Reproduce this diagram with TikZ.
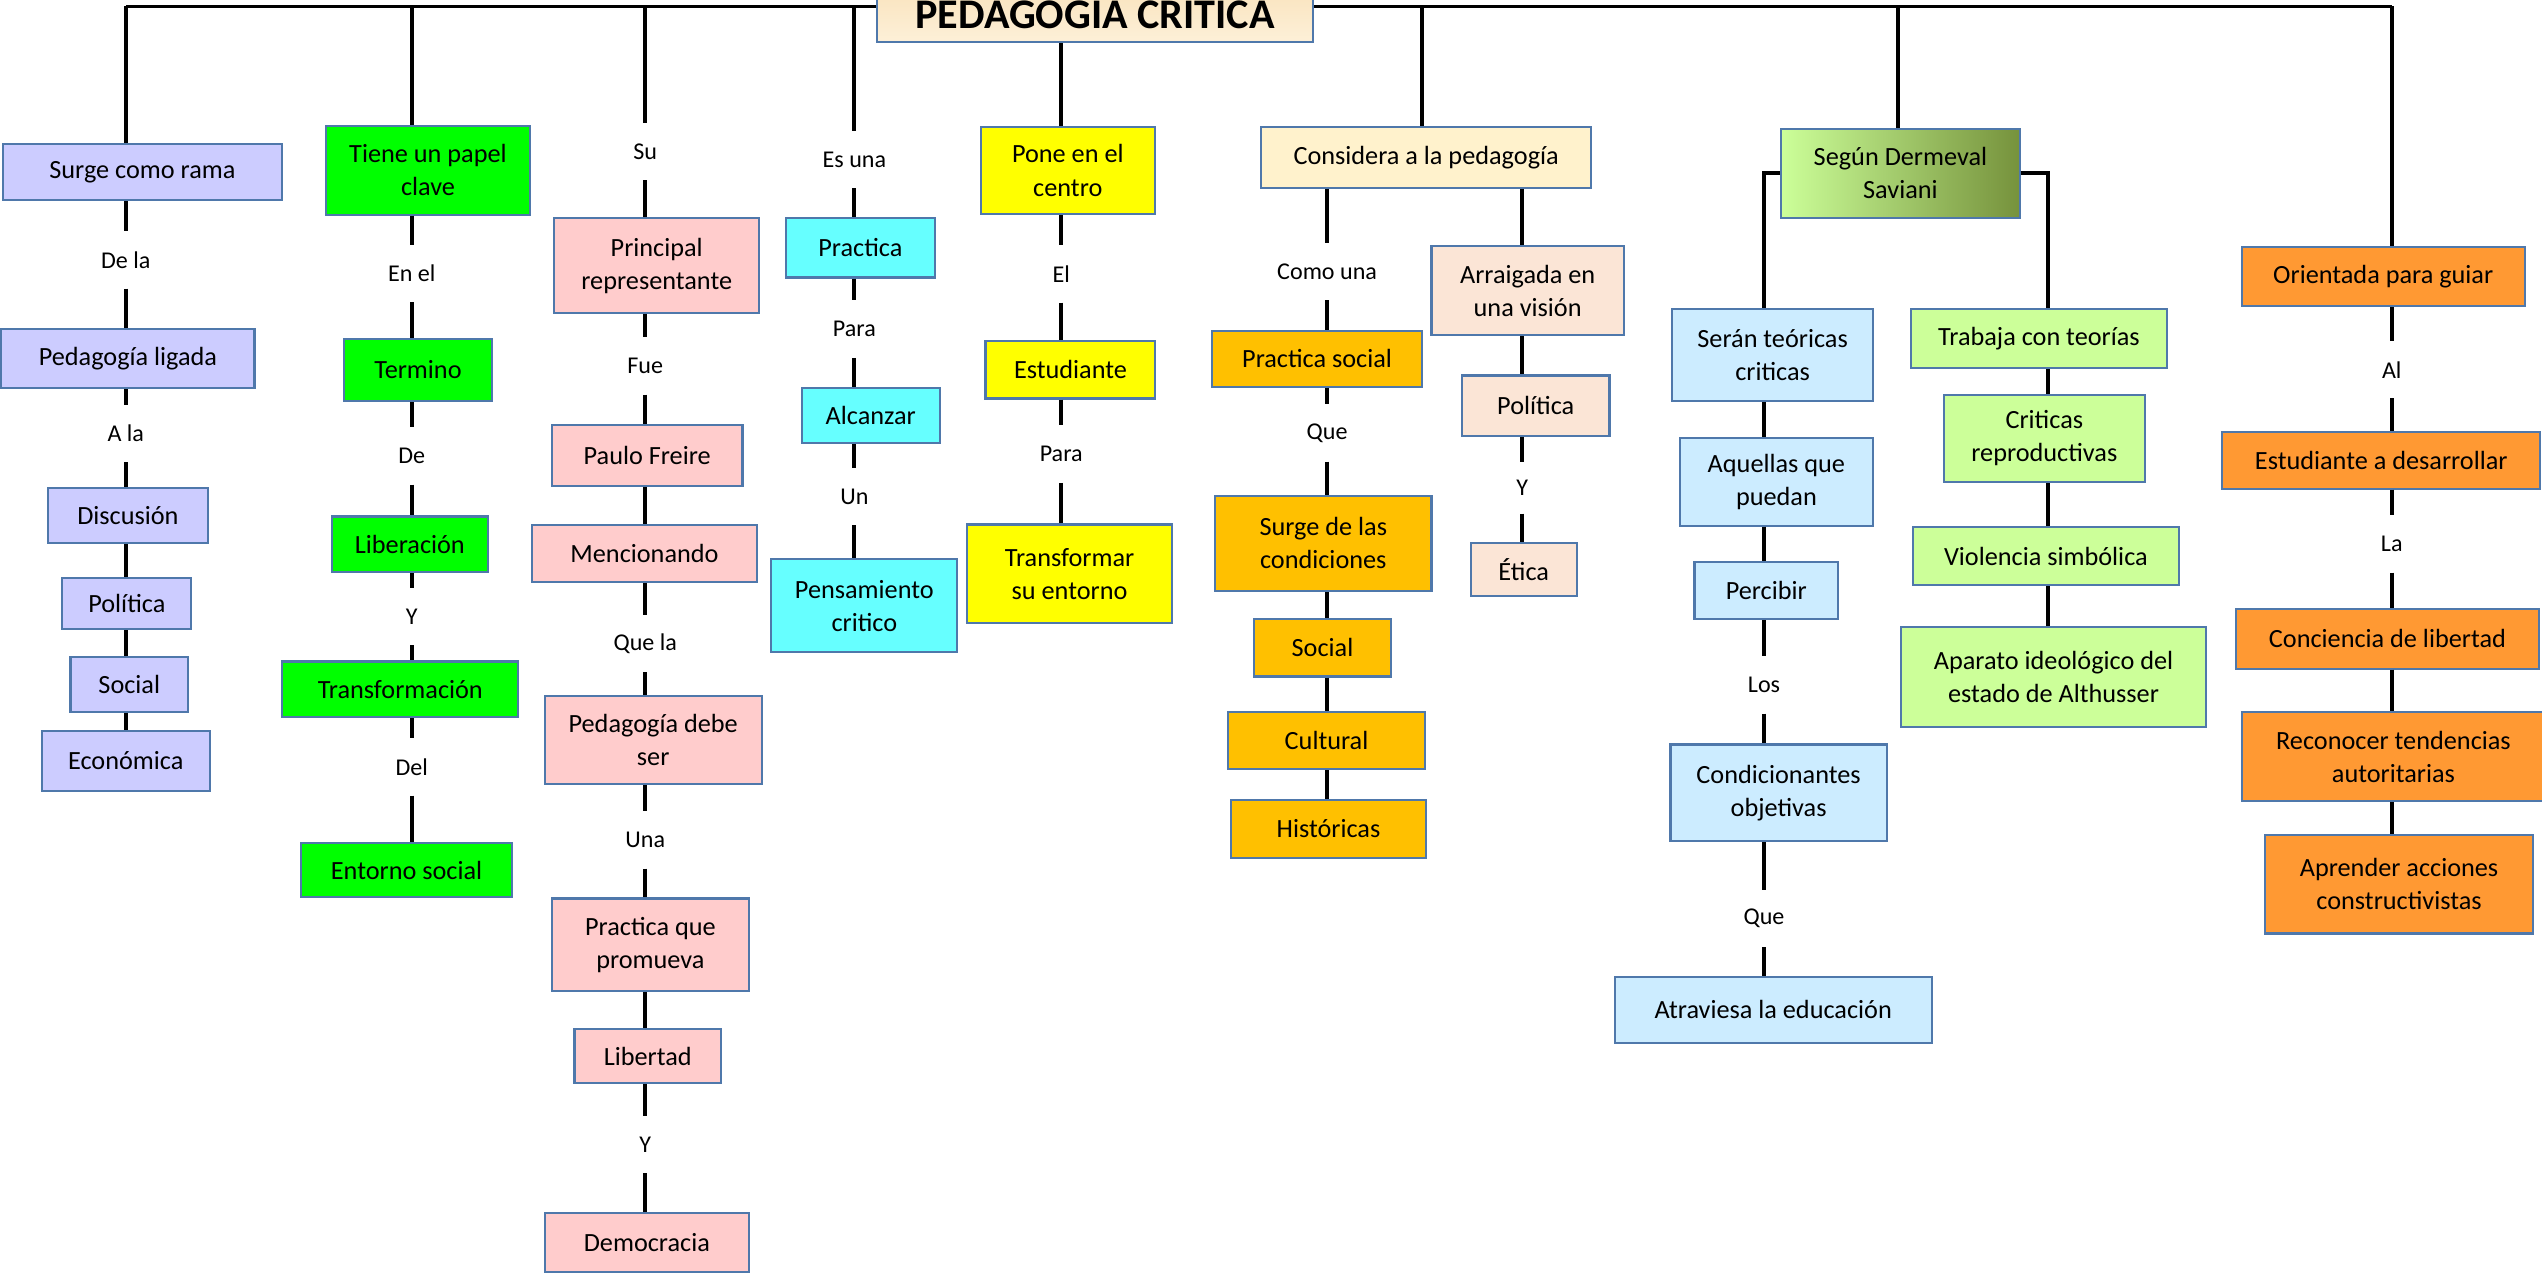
\documentclass[tikz,border=0pt]{standalone}
\usepackage{fontspec}
\setmainfont{Carlito}
\usetikzlibrary{calc}
\definecolor{bord}{HTML}{4F78AB}
\definecolor{cLav}{HTML}{CCCCFF}
\definecolor{cGreen}{HTML}{00FF00}
\definecolor{cPink}{HTML}{FFCCCC}
\definecolor{cCyan}{HTML}{66FFFF}
\definecolor{cYellow}{HTML}{FFFF00}
\definecolor{cGold}{HTML}{FFC000}
\definecolor{cPeach}{HTML}{FBE5D6}
\definecolor{cBlue}{HTML}{CCECFF}
\definecolor{cLime}{HTML}{CCFF99}
\definecolor{cOrange}{HTML}{FF9933}
\definecolor{gLight}{HTML}{FFF2CC}
\definecolor{gMid}{HTML}{FFCF40}
\definecolor{sLight}{HTML}{CCFF99}
\definecolor{sMid}{HTML}{AEDC78}
\definecolor{sDark}{HTML}{76923C}
\definecolor{tTop}{HTML}{F9E3BD}
\definecolor{tBot}{HTML}{FDF0D8}
\tikzset{
  box/.style={draw=bord, line width=1.3pt, inner sep=0pt, align=center,
    font=\fontsize{16.2}{20.4}\selectfont},
  lbl/.style={inner sep=0pt, minimum height=35pt,
    font=\fontsize{14.85}{18}\selectfont},
  conn/.style={draw=black, line width=2.4pt},
}
\newcommand\bx[7]{\node[box,#2,minimum width={#5-#3},minimum height={#6-#4}] (#1) at ({(#3+#5)/2},{(#4+#6)/2}) {#7};}
\begin{document}
\begin{tikzpicture}[x=1pt,y=-1pt]
\useasboundingbox (0,0) rectangle (1568,790.2);
\fill[white] (0,0) rectangle (1568,790.2);
% column coordinates
\coordinate (T1) at (77.6,4);
\coordinate (T2) at (254,4);
\coordinate (T3) at (398,4);
\coordinate (T4) at (527,4);
\coordinate (X5) at (654.6,0);
\coordinate (T6) at (877,4);
\coordinate (X6l) at (818.6,0);
\coordinate (X6r) at (939,0);
\coordinate (T7) at (1170.5,4);
\coordinate (X7l) at (1088.1,0);
\coordinate (X7r) at (1263,0);
\coordinate (T8) at (1475.3,4);
\draw[conn] (T1) -- (T8);
% title
\node[box, top color=tTop, bottom color=tBot, minimum width=269, minimum height=34,
  font=\fontsize{26}{30}\selectfont\bfseries] (title) at (675.5,9) {PEDAGOGIA CRITICA};
% column 1
\bx{s1}{fill=cLav}{1.7}{89}{174}{123.5}{Surge como rama}
\bx{s2}{fill=cLav}{0.8}{202.7}{157}{239.3}{Pedagogía ligada}
\bx{s3}{fill=cLav}{29.4}{301}{128.4}{335}{Discusión}
\bx{s4}{fill=cLav}{38.5}{356.3}{118}{388}{Política}
\bx{s5}{fill=cLav}{43.5}{405.4}{116}{439}{Social}
\bx{s6}{fill=cLav}{25.7}{450.8}{129.4}{487.7}{Económica}
% column 2
\bx{g1}{fill=cGreen}{201}{77.7}{327}{132.4}{Tiene un papel\\clave}
\bx{g2}{fill=cGreen}{212.3}{209}{303.3}{247.4}{Termino}
\bx{g3}{fill=cGreen}{204.6}{318.6}{301}{352.9}{Liberación}
\bx{g4}{fill=cGreen}{174.2}{408}{319.6}{442.4}{Transformación}
\bx{g5}{fill=cGreen}{185.6}{520.2}{316}{553.4}{Entorno social}
% column 3
\bx{p1}{fill=cPink}{341.8}{134.6}{468.4}{193}{Principal\\representante}
\bx{p2}{fill=cPink}{340.4}{262.3}{458}{300}{Paulo Freire}
\bx{p3}{fill=cPink}{328.3}{323.6}{466.8}{359}{Mencionando}
\bx{p4}{fill=cPink}{336}{429.5}{469.8}{483.8}{Pedagogía debe\\ser}
\bx{p5}{fill=cPink}{340.4}{554.2}{462}{611.3}{Practica que\\promueva}
\bx{p6}{fill=cPink}{354.4}{634.8}{444.7}{668.1}{Libertad}
\bx{p7}{fill=cPink}{336}{748}{462}{784.7}{Democracia}
% column 4
\bx{c1}{fill=cCyan}{484.7}{134.7}{576.7}{171.2}{Practica}
\bx{c2}{fill=cCyan}{494.6}{239.5}{579.6}{273.5}{Alcanzar}
\bx{c3}{fill=cCyan}{475.8}{345}{590.5}{402.2}{Pensamiento\\critico}
% column 5
\bx{y1}{fill=cYellow}{605}{78.1}{712.3}{132.2}{Pone en el\\centro}
\bx{y2}{fill=cYellow}{607.9}{210.2}{712.7}{245.8}{Estudiante}
\bx{y3}{fill=cYellow}{596.5}{323.5}{723}{384.3}{Transformar\\su entorno}
% column 6
\bx{o0}{left color=gLight, middle color=gMid, right color=gLight}{777.9}{78.1}{981.5}{115.8}{Considera a la pedagogía}
\bx{o1}{fill=cGold}{747.8}{204}{877}{238.6}{Practica social}
\bx{o2}{fill=cGold}{749.5}{305.9}{883}{364.4}{Surge de las\\condiciones}
\bx{o3}{fill=cGold}{773.3}{381.7}{858.2}{417.3}{Social}
\bx{o4}{fill=cGold}{757.7}{439.3}{878.8}{474.6}{Cultural}
\bx{o5}{fill=cGold}{759.1}{493.5}{879.8}{529}{Históricas}
\bx{r1}{fill=cPeach}{883}{152}{1001.6}{206.8}{Arraigada en\\una visión}
\bx{r2}{fill=cPeach}{901.8}{231.6}{992.8}{268.8}{Política}
\bx{r3}{fill=cPeach}{907.1}{334.9}{972.6}{367.6}{Ética}
% column 7
\bx{v0}{left color=sLight, middle color=sMid, right color=sDark}{1098.7}{79.3}{1245.8}{134.6}{Según Dermeval\\Saviani}
\bx{b1}{fill=cBlue}{1031.5}{190.7}{1155.3}{247.2}{Serán teóricas\\criticas}
\bx{b2}{fill=cBlue}{1036.2}{270}{1155.3}{324.2}{Aquellas que\\puedan}
\bx{b3}{fill=cBlue}{1045.2}{346.6}{1133.8}{382}{Percibir}
\bx{b4}{fill=cBlue}{1030.4}{459.2}{1163.8}{519}{Condicionantes\\objetivas}
\bx{b5}{fill=cBlue}{996}{602.7}{1191.5}{643.1}{Atraviesa la educación}
\bx{l1}{fill=cLime}{1178.7}{190.7}{1336.7}{227}{Trabaja con teorías}
\bx{l2}{fill=cLime}{1199}{243.4}{1323}{297.3}{Criticas\\reproductivas}
\bx{l3}{fill=cLime}{1179.8}{325.3}{1344.2}{360.8}{Violencia simbólica}
\bx{l4}{fill=cLime}{1172.8}{387}{1360.6}{448.7}{Aparato ideológico del\\estado de Althusser}
% column 8
\bx{q1}{fill=cOrange}{1382.8}{152.2}{1557.3}{188.8}{Orientada para guiar}
\bx{q2}{fill=cOrange}{1370.7}{266.2}{1567}{301.4}{Estudiante a desarrollar}
\bx{q3}{fill=cOrange}{1379.3}{375.8}{1566}{412.4}{Conciencia de libertad}
\bx{q4}{fill=cOrange}{1383.2}{439.3}{1569.5}{494.3}{Reconocer tendencias\\autoritarias}
\bx{q5}{fill=cOrange}{1397.3}{515.2}{1562.3}{575.8}{Aprender acciones\\constructivistas}
% labels
\node[lbl] (a1) at (77.6,160.3) {De la};
\node[lbl] (a2) at (77.6,267.5) {A la};
\node[lbl] (e1) at (254,168.75) {En el};
\node[lbl] (e2) at (254,281.25) {De};
\node[lbl] (e3) at (254,380.3) {Y};
\node[lbl] (e4) at (254,473) {Del};
\node[lbl] (f1) at (398,93.5) {Su};
\node[lbl] (f2) at (398,225.7) {Fue};
\node[lbl] (f3) at (398,397.1) {Que la};
\node[lbl] (f4) at (398,518.1) {Una};
\node[lbl] (f5) at (398,705.9) {Y};
\node[lbl] (h1) at (527,98.5) {Es una};
\node[lbl] (h2) at (527,203) {Para};
\node[lbl] (h3) at (527,306.2) {Un};
\node[lbl] (k1) at (654.6,169) {El};
\node[lbl] (k2) at (654.6,280.1) {Para};
\node[lbl] (m1) at (818.6,167.6) {Como una};
\node[lbl] (m2) at (818.6,267) {Que};
\node[lbl, minimum height=31.5pt] (m3) at (939,300.8) {Y};
\node[lbl] (n1) at (1088.1,422.5) {Los};
\node[lbl] (n2) at (1088.1,566.6) {Que};
\node[lbl] (u1) at (1475.3,228.1) {Al};
\node[lbl] (u2) at (1475.3,335.5) {La};
% connectors column 1
\draw[conn] (T1) -- (T1 |- s1.north);
\draw[conn] (s1.south -| a1) -- (a1.north);
\draw[conn] (a1.south) -- (a1 |- s2.north);
\draw[conn] (s2.south -| a2) -- (a2.north);
\draw[conn] (a2.south) -- (a2 |- s3.north);
\draw[conn] (s3.south -| T1) -- (T1 |- s4.north);
\draw[conn] (s4.south -| T1) -- (T1 |- s5.north);
\draw[conn] (s5.south -| T1) -- (T1 |- s6.north);
% column 2
\draw[conn] (T2) -- (T2 |- g1.north);
\draw[conn] (g1.south -| e1) -- (e1.north);
\draw[conn] (e1.south) -- (e1 |- g2.north);
\draw[conn] (g2.south -| e2) -- (e2.north);
\draw[conn] (e2.south) -- (e2 |- g3.north);
\draw[conn] (g3.south -| e3) -- (e3.north);
\draw[conn] (e3.south) -- (e3 |- g4.north);
\draw[conn] (g4.south -| e4) -- (e4.north);
\draw[conn] (e4.south) -- (e4 |- g5.north);
% column 3
\draw[conn] (T3) -- (f1.north);
\draw[conn] (f1.south) -- (f1 |- p1.north);
\draw[conn] (p1.south -| f2) -- (f2.north);
\draw[conn] (f2.south) -- (f2 |- p2.north);
\draw[conn] (p2.south -| T3) -- (T3 |- p3.north);
\draw[conn] (p3.south -| f3) -- (f3.north);
\draw[conn] (f3.south) -- (f3 |- p4.north);
\draw[conn] (p4.south -| f4) -- (f4.north);
\draw[conn] (f4.south) -- (f4 |- p5.north);
\draw[conn] (p5.south -| T3) -- (T3 |- p6.north);
\draw[conn] (p6.south -| f5) -- (f5.north);
\draw[conn] (f5.south) -- (f5 |- p7.north);
% column 4
\draw[conn] (T4) -- (h1.north);
\draw[conn] (h1.south) -- (h1 |- c1.north);
\draw[conn] (c1.south -| h2) -- (h2.north);
\draw[conn] (h2.south) -- (h2 |- c2.north);
\draw[conn] (c2.south -| h3) -- (h3.north);
\draw[conn] (h3.south) -- (h3 |- c3.north);
% column 5
\draw[conn] (title.south -| X5) -- (X5 |- y1.north);
\draw[conn] (y1.south -| k1) -- (k1.north);
\draw[conn] (k1.south) -- (k1 |- y2.north);
\draw[conn] (y2.south -| k2) -- (k2.north);
\draw[conn] (k2.south) -- (k2 |- y3.north);
% column 6
\draw[conn] (T6) -- (T6 |- o0.north);
\draw[conn] (o0.south -| m1) -- (m1.north);
\draw[conn] (m1.south) -- (m1 |- o1.north);
\draw[conn] (o1.south -| m2) -- (m2.north);
\draw[conn] (m2.south) -- (m2 |- o2.north);
\draw[conn] (o2.south -| X6l) -- (X6l |- o3.north);
\draw[conn] (o3.south -| X6l) -- (X6l |- o4.north);
\draw[conn] (o4.south -| X6l) -- (X6l |- o5.north);
\draw[conn] (o0.south -| X6r) -- (X6r |- r1.north);
\draw[conn] (r1.south -| X6r) -- (X6r |- r2.north);
\draw[conn] (r2.south -| m3) -- (m3.north);
\draw[conn] (m3.south) -- (m3 |- r3.north);
% column 7
\draw[conn] (T7) -- (T7 |- v0.north);
\draw[conn] (v0.west) -| (X7l |- b1.north);
\draw[conn] (v0.east) -| (X7r |- l1.north);
\draw[conn] (b1.south -| X7l) -- (X7l |- b2.north);
\draw[conn] (b2.south -| X7l) -- (X7l |- b3.north);
\draw[conn] (b3.south -| n1) -- (n1.north);
\draw[conn] (n1.south) -- (n1 |- b4.north);
\draw[conn] (b4.south -| n2) -- (n2.north);
\draw[conn] (n2.south) -- (n2 |- b5.north);
\draw[conn] (l1.south -| X7r) -- (X7r |- l2.north);
\draw[conn] (l2.south -| X7r) -- (X7r |- l3.north);
\draw[conn] (l3.south -| X7r) -- (X7r |- l4.north);
% column 8
\draw[conn] (T8) -- (T8 |- q1.north);
\draw[conn] (q1.south -| u1) -- (u1.north);
\draw[conn] (u1.south) -- (u1 |- q2.north);
\draw[conn] (q2.south -| u2) -- (u2.north);
\draw[conn] (u2.south) -- (u2 |- q3.north);
\draw[conn] (q3.south -| T8) -- (T8 |- q4.north);
\draw[conn] (q4.south -| T8) -- (T8 |- q5.north);
\end{tikzpicture}
\end{document}
